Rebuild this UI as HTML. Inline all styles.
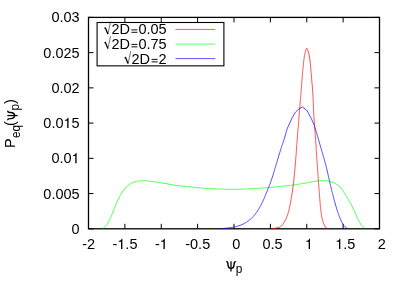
<!DOCTYPE html>
<html><head><meta charset="utf-8"><title>P_eq plot</title>
<style>
html,body{margin:0;padding:0;background:#fff;}
body{width:406px;height:290px;overflow:hidden;}
svg{display:block;will-change:transform;opacity:0.999;}
svg text{font-family:"Liberation Sans",sans-serif;font-size:14.5px;fill:#000;}
</style></head>
<body>
<svg width="406" height="290" viewBox="0 0 406 290">
<rect width="406" height="290" fill="#fff"/>
<rect x="88.5" y="17.4" width="291.0" height="211.4" fill="none" stroke="#000" stroke-width="1.3"/>
<path d="M88.5,228.80h5.0M379.5,228.80h-5.0" stroke="#000" stroke-width="1"/>
<text x="71.54" y="233.80">0</text>
<path d="M88.5,193.57h5.0M379.5,193.57h-5.0" stroke="#000" stroke-width="1"/>
<text x="43.32 51.38 55.41 63.48 71.54" y="198.57">0.005</text>
<path d="M88.5,158.33h5.0M379.5,158.33h-5.0" stroke="#000" stroke-width="1"/>
<path d="M75.26,163.33L75.26,156.01L73.00,156.01L73.00,155.13C74.41,155.05 75.53,154.63 75.80,153.05L76.61,153.05L76.61,163.33Z" fill="#000"/><text x="51.38 59.44 63.48" y="163.33">0.0</text>
<path d="M88.5,123.10h5.0M379.5,123.10h-5.0" stroke="#000" stroke-width="1"/>
<path d="M67.20,128.10L67.20,120.78L64.94,120.78L64.94,119.89C66.35,119.82 67.46,119.40 67.74,117.82L68.55,117.82L68.55,128.10Z" fill="#000"/><text x="43.32 51.38 55.41 71.54" y="128.10">0.05</text>
<path d="M88.5,87.87h5.0M379.5,87.87h-5.0" stroke="#000" stroke-width="1"/>
<text x="51.38 59.44 63.48 71.54" y="92.87">0.02</text>
<path d="M88.5,52.63h5.0M379.5,52.63h-5.0" stroke="#000" stroke-width="1"/>
<text x="43.32 51.38 55.41 63.48 71.54" y="57.63">0.025</text>
<path d="M88.5,17.40h5.0M379.5,17.40h-5.0" stroke="#000" stroke-width="1"/>
<text x="51.38 59.44 63.48 71.54" y="22.40">0.03</text>
<path d="M88.50,228.8v-5.0M88.50,17.4v5.0" stroke="#000" stroke-width="1"/>
<text x="82.15 86.98" y="249.00">-2</text>
<path d="M124.88,228.8v-5.0M124.88,17.4v5.0" stroke="#000" stroke-width="1"/>
<path d="M121.04,249.00L121.04,241.68L118.78,241.68L118.78,240.79C120.18,240.72 121.30,240.30 121.57,238.72L122.39,238.72L122.39,249.00Z" fill="#000"/><text x="112.48 125.37 129.40" y="249.00">-.5</text>
<path d="M161.25,228.8v-5.0M161.25,17.4v5.0" stroke="#000" stroke-width="1"/>
<path d="M163.46,249.00L163.46,241.68L161.20,241.68L161.20,240.79C162.60,240.72 163.72,240.30 164.00,238.72L164.81,238.72L164.81,249.00Z" fill="#000"/><text x="154.90" y="249.00">-</text>
<path d="M197.62,228.8v-5.0M197.62,17.4v5.0" stroke="#000" stroke-width="1"/>
<text x="185.23 190.06 198.12 202.15" y="249.00">-0.5</text>
<path d="M234.00,228.8v-5.0M234.00,17.4v5.0" stroke="#000" stroke-width="1"/>
<text x="232.17" y="249.00">0</text>
<path d="M270.38,228.8v-5.0M270.38,17.4v5.0" stroke="#000" stroke-width="1"/>
<text x="262.50 270.56 274.59" y="249.00">0.5</text>
<path d="M306.75,228.8v-5.0M306.75,17.4v5.0" stroke="#000" stroke-width="1"/>
<path d="M308.65,249.00L308.65,241.68L306.38,241.68L306.38,240.79C307.79,240.72 308.91,240.30 309.18,238.72L309.99,238.72L309.99,249.00Z" fill="#000"/>
<path d="M343.12,228.8v-5.0M343.12,17.4v5.0" stroke="#000" stroke-width="1"/>
<path d="M338.97,249.00L338.97,241.68L336.71,241.68L336.71,240.79C338.12,240.72 339.24,240.30 339.51,238.72L340.32,238.72L340.32,249.00Z" fill="#000"/><text x="343.31 347.34" y="249.00">.5</text>
<path d="M379.50,228.8v-5.0M379.50,17.4v5.0" stroke="#000" stroke-width="1"/>
<text x="377.67" y="249.00">2</text>
<path d="M102.6,228.7 L103.4,228.0 L104.1,227.4 L104.9,226.8 L105.6,226.1 L106.3,225.3 L106.9,224.5 L107.5,223.7 L108.0,222.9 L108.5,222.0 L109.0,221.1 L109.4,220.2 L109.8,219.3 L110.2,218.4 L110.6,217.5 L111.0,216.6 L111.4,215.6 L111.8,214.7 L112.2,213.8 L112.5,212.9 L112.9,211.9 L113.3,211.0 L113.7,210.1 L114.0,209.1 L114.4,208.2 L114.8,207.3 L115.2,206.4 L115.6,205.4 L116.0,204.5 L116.3,203.6 L116.7,202.7 L117.1,201.8 L117.6,200.9 L118.0,200.0 L118.4,199.0 L118.8,198.1 L119.3,197.2 L119.7,196.3 L120.2,195.5 L120.7,194.6 L121.2,193.8 L121.8,192.9 L122.3,192.1 L122.9,191.3 L123.5,190.5 L124.2,189.7 L124.8,188.9 L125.4,188.2 L126.1,187.4 L126.8,186.7 L127.5,186.0 L128.3,185.3 L129.1,184.7 L129.9,184.1 L130.7,183.6 L131.6,183.1 L132.5,182.7 L133.5,182.3 L134.4,182.0 L135.3,181.7 L136.3,181.4 L137.3,181.2 L138.3,181.1 L139.3,181.0 L140.3,180.9 L141.3,180.8 L142.3,180.7 L143.3,180.7 L144.3,180.7 L145.3,180.7 L146.3,180.8 L147.3,180.9 L148.3,181.0 L149.3,181.1 L150.3,181.2 L151.2,181.3 L152.2,181.4 L153.2,181.5 L154.2,181.7 L155.2,181.8 L156.2,182.0 L157.2,182.2 L158.2,182.3 L159.2,182.5 L160.1,182.6 L161.1,182.8 L162.1,183.0 L163.1,183.1 L164.1,183.3 L165.1,183.4 L166.1,183.6 L167.0,183.8 L168.0,184.0 L169.0,184.2 L170.0,184.4 L171.0,184.6 L172.0,184.8 L172.9,185.0 L173.9,185.1 L174.9,185.3 L175.9,185.4 L176.9,185.5 L177.9,185.7 L178.9,185.8 L179.9,185.9 L180.9,186.0 L181.9,186.0 L182.9,186.1 L183.9,186.2 L184.9,186.3 L185.8,186.4 L186.8,186.5 L187.8,186.6 L188.8,186.7 L189.8,186.8 L190.8,186.9 L191.8,187.0 L192.8,187.1 L193.8,187.2 L194.8,187.3 L195.8,187.4 L196.8,187.5 L197.8,187.6 L198.8,187.7 L199.8,187.8 L200.8,187.9 L201.8,188.0 L202.8,188.1 L203.8,188.2 L204.8,188.3 L205.8,188.4 L206.8,188.4 L207.8,188.5 L208.8,188.6 L209.7,188.6 L210.7,188.7 L211.7,188.8 L212.7,188.8 L213.7,188.8 L214.7,188.9 L215.7,188.9 L216.7,188.9 L217.7,189.0 L218.7,189.0 L219.7,189.1 L220.7,189.1 L221.7,189.1 L222.7,189.1 L223.7,189.2 L224.7,189.2 L225.7,189.2 L226.7,189.2 L227.7,189.3 L228.7,189.3 L229.7,189.3 L230.7,189.3 L231.7,189.3 L232.7,189.3 L233.7,189.3 L234.7,189.3 L235.7,189.3 L236.7,189.3 L237.7,189.2 L238.7,189.2 L239.7,189.2 L240.7,189.2 L241.7,189.1 L242.7,189.1 L243.7,189.1 L244.7,189.0 L245.7,189.0 L246.7,188.9 L247.7,188.9 L248.7,188.9 L249.7,188.8 L250.7,188.8 L251.7,188.7 L252.7,188.7 L253.7,188.6 L254.7,188.6 L255.7,188.5 L256.7,188.4 L257.7,188.4 L258.7,188.3 L259.7,188.2 L260.7,188.1 L261.7,188.1 L262.7,188.0 L263.7,187.9 L264.7,187.8 L265.7,187.7 L266.7,187.7 L267.7,187.6 L268.7,187.5 L269.7,187.4 L270.7,187.3 L271.7,187.3 L272.7,187.2 L273.7,187.1 L274.7,187.0 L275.7,186.9 L276.7,186.8 L277.7,186.7 L278.6,186.6 L279.6,186.5 L280.6,186.4 L281.6,186.3 L282.6,186.2 L283.6,186.1 L284.6,186.0 L285.6,185.9 L286.6,185.8 L287.6,185.7 L288.6,185.6 L289.6,185.4 L290.6,185.3 L291.6,185.2 L292.6,185.1 L293.5,184.9 L294.5,184.8 L295.5,184.7 L296.5,184.5 L297.5,184.4 L298.5,184.2 L299.5,184.1 L300.5,183.9 L301.5,183.8 L302.5,183.6 L303.4,183.5 L304.4,183.3 L305.4,183.1 L306.4,182.9 L307.4,182.8 L308.4,182.5 L309.3,182.3 L310.3,182.1 L311.3,181.9 L312.3,181.7 L313.3,181.5 L314.3,181.4 L315.2,181.3 L316.2,181.1 L317.2,181.0 L318.2,180.9 L319.2,180.8 L320.2,180.8 L321.2,180.7 L322.2,180.7 L323.2,180.7 L324.2,180.7 L325.2,180.7 L326.2,180.7 L327.2,180.7 L328.2,180.9 L329.2,181.1 L330.1,181.4 L331.1,181.8 L332.0,182.1 L333.0,182.5 L333.9,182.9 L334.8,183.3 L335.7,183.8 L336.5,184.3 L337.4,184.8 L338.2,185.4 L339.0,186.0 L339.8,186.6 L340.5,187.3 L341.1,188.1 L341.7,188.9 L342.3,189.7 L342.8,190.5 L343.3,191.4 L343.9,192.3 L344.4,193.2 L344.9,194.0 L345.5,194.8 L346.0,195.7 L346.5,196.5 L347.1,197.4 L347.6,198.2 L348.1,199.1 L348.7,199.9 L349.2,200.8 L349.7,201.7 L350.1,202.5 L350.6,203.4 L351.1,204.3 L351.5,205.2 L352.0,206.1 L352.4,207.0 L352.9,207.9 L353.3,208.8 L353.8,209.7 L354.2,210.6 L354.6,211.5 L355.0,212.4 L355.4,213.3 L355.8,214.2 L356.2,215.2 L356.6,216.1 L356.9,217.0 L357.4,217.9 L357.8,218.8 L358.2,219.7 L358.7,220.6 L359.1,221.5 L359.6,222.4 L360.2,223.2 L360.7,224.1 L361.3,224.9 L361.9,225.7 L362.6,226.4 L363.3,227.1 L364.1,227.7 L364.9,228.4 L364.9,228.4" fill="none" stroke="#00ff00" stroke-width="0.7"/>
<path d="M221.5,228.7 L222.5,228.6 L223.5,228.5 L224.5,228.4 L225.5,228.2 L226.5,228.1 L227.5,228.0 L228.5,227.9 L229.4,227.7 L230.4,227.6 L231.4,227.5 L232.4,227.3 L233.4,227.1 L234.4,227.0 L235.4,226.8 L236.3,226.5 L237.3,226.2 L238.3,225.9 L239.2,225.6 L240.1,225.3 L241.1,224.9 L242.0,224.6 L242.9,224.1 L243.8,223.7 L244.7,223.2 L245.6,222.8 L246.4,222.2 L247.3,221.7 L248.1,221.1 L248.9,220.5 L249.7,219.9 L250.4,219.2 L251.2,218.6 L251.9,217.9 L252.6,217.2 L253.3,216.4 L253.9,215.7 L254.6,214.9 L255.2,214.1 L255.8,213.3 L256.4,212.5 L257.0,211.7 L257.5,210.9 L258.1,210.0 L258.6,209.2 L259.1,208.3 L259.6,207.4 L260.1,206.6 L260.6,205.7 L261.1,204.8 L261.5,203.9 L262.0,203.0 L262.4,202.1 L262.9,201.2 L263.3,200.3 L263.7,199.4 L264.1,198.5 L264.5,197.6 L264.8,196.7 L265.2,195.7 L265.6,194.8 L265.9,193.9 L266.3,192.9 L266.7,192.0 L267.1,191.1 L267.5,190.2 L267.8,189.2 L268.2,188.3 L268.6,187.4 L269.0,186.5 L269.3,185.5 L269.7,184.6 L270.1,183.7 L270.4,182.7 L270.8,181.8 L271.1,180.8 L271.4,179.9 L271.7,179.0 L272.1,178.0 L272.4,177.1 L272.7,176.1 L273.0,175.2 L273.3,174.2 L273.6,173.2 L273.9,172.3 L274.1,171.3 L274.4,170.4 L274.7,169.4 L275.0,168.4 L275.3,167.5 L275.6,166.5 L275.8,165.6 L276.1,164.6 L276.4,163.7 L276.7,162.7 L277.0,161.7 L277.3,160.8 L277.6,159.8 L277.9,158.9 L278.1,157.9 L278.4,157.0 L278.7,156.0 L279.0,155.0 L279.3,154.1 L279.6,153.1 L279.9,152.2 L280.2,151.2 L280.5,150.3 L280.8,149.3 L281.1,148.4 L281.4,147.4 L281.7,146.4 L282.0,145.5 L282.3,144.6 L282.7,143.6 L283.0,142.7 L283.3,141.7 L283.6,140.8 L283.9,139.8 L284.2,138.9 L284.6,137.9 L284.8,137.0 L285.1,136.0 L285.4,135.0 L285.7,134.1 L286.0,133.1 L286.2,132.2 L286.5,131.2 L286.8,130.2 L287.0,129.3 L287.1,128.9 L287.1,128.9 L292.2,117.6 L295.3,112.4 L299.0,108.8 L302.4,107.0 L306.7,110.1 L310.8,117.6 L313.9,124.3 L316.2,131.5 L316.2,131.5 L316.5,132.5 L316.8,133.4 L317.0,134.4 L317.3,135.3 L317.6,136.3 L317.9,137.3 L318.1,138.2 L318.4,139.2 L318.7,140.1 L319.0,141.1 L319.2,142.1 L319.5,143.0 L319.8,144.0 L320.1,145.0 L320.4,145.9 L320.6,146.9 L320.9,147.8 L321.2,148.8 L321.5,149.8 L321.8,150.7 L322.0,151.7 L322.3,152.6 L322.6,153.6 L322.9,154.6 L323.1,155.5 L323.4,156.5 L323.7,157.4 L324.0,158.4 L324.3,159.4 L324.5,160.3 L324.8,161.3 L325.1,162.2 L325.3,163.2 L325.6,164.2 L325.8,165.2 L326.0,166.1 L326.3,167.1 L326.5,168.1 L326.8,169.0 L327.0,170.0 L327.2,171.0 L327.4,172.0 L327.7,172.9 L327.9,173.9 L328.1,174.9 L328.3,175.9 L328.5,176.8 L328.8,177.8 L329.0,178.8 L329.2,179.8 L329.4,180.7 L329.6,181.7 L329.9,182.7 L330.1,183.7 L330.3,184.6 L330.6,185.6 L330.8,186.6 L331.0,187.6 L331.3,188.5 L331.5,189.5 L331.8,190.5 L332.0,191.4 L332.2,192.4 L332.5,193.4 L332.7,194.4 L333.0,195.3 L333.2,196.3 L333.5,197.3 L333.7,198.2 L334.0,199.2 L334.2,200.2 L334.5,201.1 L334.8,202.1 L335.0,203.0 L335.3,204.0 L335.6,205.0 L335.9,205.9 L336.2,206.9 L336.4,207.8 L336.7,208.8 L337.0,209.8 L337.3,210.7 L337.6,211.7 L338.0,212.6 L338.3,213.6 L338.6,214.5 L339.0,215.5 L339.3,216.4 L339.7,217.3 L340.1,218.2 L340.4,219.2 L340.9,220.1 L341.3,221.1 L341.7,222.0 L342.2,222.9 L342.7,223.8 L343.2,224.6 L343.7,225.4 L344.3,226.1 L345.0,226.8 L345.8,227.4 L346.6,228.0 L347.5,228.5 L347.8,228.7" fill="none" stroke="#0000ff" stroke-width="0.7"/>
<path d="M271.0,228.8 L272.0,228.7 L273.0,228.6 L274.0,228.5 L275.0,228.3 L276.0,228.1 L276.9,227.9 L277.9,227.6 L278.9,227.3 L279.9,227.0 L280.7,226.5 L281.4,226.0 L282.1,225.3 L282.7,224.5 L283.3,223.6 L283.9,222.7 L284.4,221.8 L284.9,220.9 L285.4,220.1 L285.8,219.2 L286.2,218.3 L286.6,217.3 L287.0,216.4 L287.4,215.5 L287.7,214.5 L288.0,213.5 L288.3,212.6 L288.5,211.6 L288.8,210.7 L289.0,209.7 L289.3,208.7 L289.5,207.8 L289.7,206.8 L289.9,205.8 L290.1,204.8 L290.3,203.8 L290.5,202.8 L290.7,201.8 L290.8,200.9 L291.0,199.9 L291.2,198.9 L291.3,197.9 L291.5,196.9 L291.7,195.9 L291.8,194.9 L292.0,194.0 L292.1,193.0 L292.3,192.0 L292.4,191.0 L292.6,190.0 L292.7,189.0 L292.8,188.0 L293.0,187.0 L293.1,186.0 L293.2,185.0 L293.3,184.0 L293.5,183.1 L293.6,182.1 L293.7,181.1 L293.8,180.1 L293.9,179.1 L294.0,178.1 L294.1,177.1 L294.2,176.1 L294.3,175.1 L294.4,174.1 L294.5,173.1 L294.6,172.1 L294.7,171.1 L294.8,170.1 L294.9,169.1 L295.0,168.1 L295.1,167.1 L295.1,166.1 L295.2,165.1 L295.3,164.1 L295.4,163.1 L295.5,162.2 L295.6,161.2 L295.7,160.2 L295.7,159.2 L295.8,158.2 L295.9,157.2 L296.0,156.2 L296.0,155.2 L296.1,154.2 L296.2,153.2 L296.3,152.2 L296.3,151.2 L296.4,150.2 L296.5,149.2 L296.6,148.2 L296.6,147.2 L296.7,146.2 L296.8,145.2 L296.9,144.2 L296.9,143.2 L297.0,142.2 L297.1,141.2 L297.2,140.2 L297.2,139.2 L297.3,138.2 L297.4,137.2 L297.5,136.2 L297.5,135.2 L297.6,134.2 L297.7,133.2 L297.8,132.2 L297.9,131.2 L297.9,130.2 L298.0,129.3 L298.1,128.3 L298.2,127.3 L298.3,126.3 L298.4,125.3 L298.4,124.3 L298.5,123.3 L298.6,122.3 L298.7,121.3 L298.8,120.3 L298.8,119.3 L298.9,118.3 L299.0,117.3 L299.1,116.3 L299.2,115.3 L299.2,114.3 L299.3,113.3 L299.4,112.3 L299.5,111.3 L299.6,110.3 L299.6,109.3 L299.7,108.3 L299.8,107.3 L299.9,106.3 L300.0,105.3 L300.0,104.3 L300.1,103.3 L300.2,102.3 L300.3,101.3 L300.4,100.3 L300.4,99.3 L300.5,98.4 L300.6,97.4 L300.7,96.4 L300.8,95.4 L300.8,94.4 L300.9,93.4 L301.0,92.4 L301.1,91.4 L301.2,90.4 L301.2,89.4 L301.3,88.4 L301.4,87.4 L301.5,86.4 L301.5,85.4 L301.6,84.4 L301.7,83.4 L301.8,82.4 L301.8,81.4 L301.9,80.4 L302.0,79.4 L302.1,78.4 L302.2,77.4 L302.3,76.4 L302.3,75.4 L302.4,74.4 L302.5,73.4 L302.6,72.4 L302.7,71.4 L302.8,70.4 L302.9,69.4 L303.0,68.4 L303.1,67.5 L303.2,66.5 L303.3,65.5 L303.4,64.5 L303.5,63.5 L303.6,62.5 L303.7,61.5 L303.8,60.5 L303.9,59.5 L304.1,58.5 L304.2,57.5 L304.4,56.5 L304.6,55.5 L304.7,54.6 L304.9,53.6 L305.2,52.6 L305.4,51.6 L305.7,50.7 L306.0,49.7 L306.4,48.7 L306.9,48.3 L307.4,49.3 L307.8,50.2 L308.2,51.2 L308.4,52.1 L308.7,53.1 L308.9,54.1 L309.1,55.0 L309.3,56.0 L309.5,57.0 L309.6,58.0 L309.8,59.0 L309.9,60.0 L310.0,61.0 L310.2,62.0 L310.3,63.0 L310.4,63.9 L310.5,64.9 L310.6,65.9 L310.6,66.9 L310.7,67.9 L310.8,68.9 L310.9,69.9 L311.0,70.9 L311.1,71.9 L311.1,72.9 L311.2,73.9 L311.3,74.9 L311.4,75.9 L311.5,76.9 L311.6,77.9 L311.7,78.9 L311.7,79.9 L311.8,80.9 L311.9,81.9 L312.0,82.9 L312.1,83.9 L312.2,84.9 L312.3,85.9 L312.3,86.9 L312.4,87.9 L312.5,88.9 L312.6,89.9 L312.6,90.9 L312.7,91.9 L312.8,92.9 L312.8,93.9 L312.9,94.9 L313.0,95.9 L313.0,96.9 L313.1,97.9 L313.1,98.8 L313.1,99.8 L313.2,100.8 L313.2,101.8 L313.3,102.8 L313.3,103.8 L313.4,104.8 L313.4,105.8 L313.4,106.8 L313.5,107.8 L313.5,108.8 L313.6,109.8 L313.6,110.8 L313.6,111.8 L313.7,112.8 L313.7,113.8 L313.8,114.8 L313.9,115.8 L313.9,116.8 L314.0,117.8 L314.0,118.8 L314.1,119.8 L314.2,120.8 L314.3,121.8 L314.3,122.8 L314.4,123.8 L314.5,124.8 L314.5,125.8 L314.6,126.8 L314.7,127.8 L314.8,128.8 L314.9,129.8 L314.9,130.8 L315.0,131.8 L315.1,132.8 L315.2,133.8 L315.2,134.8 L315.3,135.8 L315.4,136.8 L315.5,137.8 L315.5,138.8 L315.6,139.8 L315.7,140.8 L315.7,141.8 L315.8,142.8 L315.9,143.8 L316.0,144.8 L316.0,145.8 L316.1,146.8 L316.2,147.8 L316.2,148.7 L316.3,149.7 L316.3,150.7 L316.4,151.7 L316.5,152.7 L316.5,153.7 L316.6,154.7 L316.7,155.7 L316.7,156.7 L316.8,157.7 L316.9,158.7 L316.9,159.7 L317.0,160.7 L317.1,161.7 L317.1,162.7 L317.2,163.7 L317.3,164.7 L317.4,165.7 L317.4,166.7 L317.5,167.7 L317.6,168.7 L317.6,169.7 L317.7,170.7 L317.8,171.7 L317.8,172.7 L317.9,173.7 L318.0,174.7 L318.0,175.7 L318.1,176.7 L318.2,177.7 L318.2,178.7 L318.3,179.7 L318.4,180.7 L318.5,181.7 L318.5,182.7 L318.6,183.7 L318.7,184.7 L318.8,185.7 L318.8,186.7 L318.9,187.7 L319.0,188.7 L319.1,189.6 L319.2,190.6 L319.2,191.6 L319.3,192.6 L319.4,193.6 L319.5,194.6 L319.5,195.6 L319.6,196.6 L319.7,197.6 L319.8,198.6 L319.8,199.6 L319.9,200.6 L320.0,201.6 L320.1,202.6 L320.2,203.6 L320.2,204.6 L320.3,205.6 L320.4,206.6 L320.5,207.6 L320.6,208.6 L320.7,209.6 L320.9,210.6 L321.0,211.6 L321.1,212.6 L321.2,213.5 L321.4,214.5 L321.6,215.5 L321.7,216.5 L321.9,217.5 L322.2,218.5 L322.4,219.5 L322.6,220.5 L322.9,221.4 L323.2,222.4 L323.5,223.3 L323.9,224.2 L324.3,225.2 L324.9,226.2 L325.4,227.1 L326.1,227.7 L326.8,228.2 L327.7,228.5 L328.7,228.7 L329.5,228.8" fill="none" stroke="#ff0000" stroke-width="0.7"/>
<rect x="97.1" y="22.5" width="126.8" height="43.35" fill="#fff" stroke="#000" stroke-width="1.1"/>
<path d="M131.41,29.85h6.0M131.41,32.30h6.0" stroke="#000" stroke-width="0.95" fill="none"/><text x="111.38 119.45 138.38 146.44 150.48 158.54" y="34.15">2D0.05</text>
<path d="M104.08,28.55L105.28,27.65" stroke="#000" stroke-width="0.6" fill="none"/>
<path d="M105.18,27.55L107.88,34.05" stroke="#000" stroke-width="1.3" fill="none"/>
<path d="M107.88,34.25L110.58,21.65" stroke="#000" stroke-width="0.55" fill="none"/>
<path d="M175.5,29.45H215.3" stroke="#ff0000" stroke-width="0.65"/>
<path d="M131.41,44.40h6.0M131.41,46.85h6.0" stroke="#000" stroke-width="0.95" fill="none"/><text x="111.38 119.45 138.38 146.44 150.48 158.54" y="48.70">2D0.75</text>
<path d="M104.08,43.10L105.28,42.20" stroke="#000" stroke-width="0.6" fill="none"/>
<path d="M105.18,42.10L107.88,48.60" stroke="#000" stroke-width="1.3" fill="none"/>
<path d="M107.88,48.80L110.58,36.20" stroke="#000" stroke-width="0.55" fill="none"/>
<path d="M175.5,44.1H215.3" stroke="#00ff00" stroke-width="0.65"/>
<path d="M151.57,59.40h6.0M151.57,61.85h6.0" stroke="#000" stroke-width="0.95" fill="none"/><text x="131.54 139.60 158.54" y="63.70">2D2</text>
<path d="M124.24,58.10L125.44,57.20" stroke="#000" stroke-width="0.6" fill="none"/>
<path d="M125.34,57.10L128.04,63.60" stroke="#000" stroke-width="1.3" fill="none"/>
<path d="M128.04,63.80L130.74,51.20" stroke="#000" stroke-width="0.55" fill="none"/>
<path d="M175.5,58.6H215.3" stroke="#0000ff" stroke-width="0.65"/>
<path d="M226.30,261.80 C227.60,261.50 227.90,262.50 227.95,264.30 C228.00,267.20 229.10,268.50 231.00,268.50" fill="none" stroke="#000" stroke-width="1.45"/><path d="M235.80,261.70 C234.50,261.50 234.15,262.50 234.10,264.30 C234.05,267.20 232.90,268.50 231.00,268.50" fill="none" stroke="#000" stroke-width="1.45"/><path d="M231.00,261.20V271.60" fill="none" stroke="#000" stroke-width="1.25"/>
<text x="235.7" y="273.15" style="font-size:11.9px">p</text>
<g transform="translate(14.8,147.6) rotate(-90)"><text x="-0.3" y="0">P</text><text x="9.5" y="4.75" style="font-size:11.9px">eq</text><text x="21.7" y="0">(</text><path d="M27.35,-6.90 C28.65,-7.20 28.95,-6.20 29.00,-4.40 C29.05,-1.50 30.15,-0.20 32.05,-0.20" fill="none" stroke="#000" stroke-width="1.45"/><path d="M36.85,-7.00 C35.55,-7.20 35.20,-6.20 35.15,-4.40 C35.10,-1.50 33.95,-0.20 32.05,-0.20" fill="none" stroke="#000" stroke-width="1.45"/><path d="M32.05,-7.50V2.90" fill="none" stroke="#000" stroke-width="1.25"/><text x="37.0" y="4.45" style="font-size:11.9px">p</text><text x="43.5" y="0">)</text></g>
</svg>
</body></html>
